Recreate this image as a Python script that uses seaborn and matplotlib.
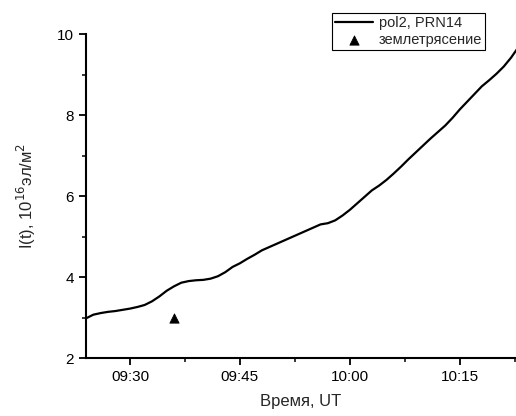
import pandas as pd
import seaborn as sns
import matplotlib.pyplot as plt
import matplotlib.dates as mdates
from matplotlib.ticker import AutoMinorLocator, MultipleLocator

# Данные: полное электронное содержание, pol2 PRN14
vremya = ['09:24', '09:25', '09:26', '09:27', '09:28', '09:29', '09:30', '09:31',
          '09:32', '09:33', '09:34', '09:35', '09:36', '09:37', '09:38', '09:39',
          '09:40', '09:41', '09:42', '09:43', '09:44', '09:45', '09:46', '09:47',
          '09:48', '09:49', '09:50', '09:51', '09:52', '09:53', '09:54', '09:55',
          '09:56', '09:57', '09:58', '09:59', '10:00', '10:01', '10:02', '10:03',
          '10:04', '10:05', '10:06', '10:07', '10:08', '10:09', '10:10', '10:11',
          '10:12', '10:13', '10:14', '10:15', '10:16', '10:17', '10:18', '10:19',
          '10:20', '10:21', '10:22', '10:23']
tec = [2.98, 3.07, 3.11, 3.14, 3.16, 3.19, 3.22, 3.26,
       3.31, 3.40, 3.52, 3.66, 3.77, 3.86, 3.90, 3.92,
       3.93, 3.96, 4.02, 4.12, 4.25, 4.34, 4.45, 4.55,
       4.66, 4.74, 4.82, 4.90, 4.98, 5.06, 5.14, 5.22,
       5.30, 5.33, 5.40, 5.52, 5.66, 5.82, 5.98, 6.14,
       6.26, 6.40, 6.56, 6.73, 6.91, 7.08, 7.25, 7.42,
       7.58, 7.74, 7.93, 8.14, 8.33, 8.52, 8.71, 8.86,
       9.02, 9.20, 9.42, 9.68]

# Момент землетрясения
eq_time = ['09:36']
eq_value = [3.0]

df = pd.DataFrame({'t': pd.to_datetime(['2000-01-01 ' + v for v in vremya]), 'I': tec})
df_eq = pd.DataFrame({'t': pd.to_datetime(['2000-01-01 ' + v for v in eq_time]), 'I': eq_value})

sns.set_style('ticks')
plt.rcParams['font.family'] = ['Liberation Sans', 'DejaVu Sans']

fig = plt.figure(figsize=(5.16, 4.16), dpi=100)
ax = fig.add_axes([0.1667, 0.1394, 0.8333, 0.7786])

sns.lineplot(data=df, x='t', y='I', ax=ax, color='black', linewidth=1.6, label='pol2, PRN14')
sns.scatterplot(data=df_eq, x='t', y='I', ax=ax, color='black', marker='^', s=45,
                edgecolor='black', label='землетрясение')

ax.set_xlim(pd.Timestamp('2000-01-01 09:24'), pd.Timestamp('2000-01-01 10:22:40'))
ax.set_ylim(2, 10)

ax.xaxis.set_major_locator(mdates.MinuteLocator(byminute=[0, 15, 30, 45]))
ax.xaxis.set_major_formatter(mdates.DateFormatter('%H:%M'))
ax.xaxis.set_minor_locator(AutoMinorLocator(2))
ax.yaxis.set_major_locator(MultipleLocator(2))
ax.yaxis.set_minor_locator(MultipleLocator(1))

ax.tick_params(which='major', direction='out', length=5, width=1.3, labelsize=11, colors='black')
ax.tick_params(which='minor', direction='out', length=3, width=1.3)
for s in ['left', 'bottom']:
    ax.spines[s].set_linewidth(1.5)
    ax.spines[s].set_color('black')
sns.despine(ax=ax)

ax.set_xlabel('Время, UT', fontsize=12, labelpad=7)
ax.set_ylabel('I(t), 10$^{16}$эл/м$^2$', fontsize=12, labelpad=14)

leg = ax.legend(loc='upper right', bbox_to_anchor=(0.94, 0.969), bbox_transform=fig.transFigure,
                fancybox=False, edgecolor='black', framealpha=1, fontsize=10.5,
                handlelength=2.6, handletextpad=0.4, borderpad=0.2, borderaxespad=0,
                labelspacing=0.2)
leg.get_frame().set_linewidth(0.8)

plt.savefig('out.png', dpi=100)
